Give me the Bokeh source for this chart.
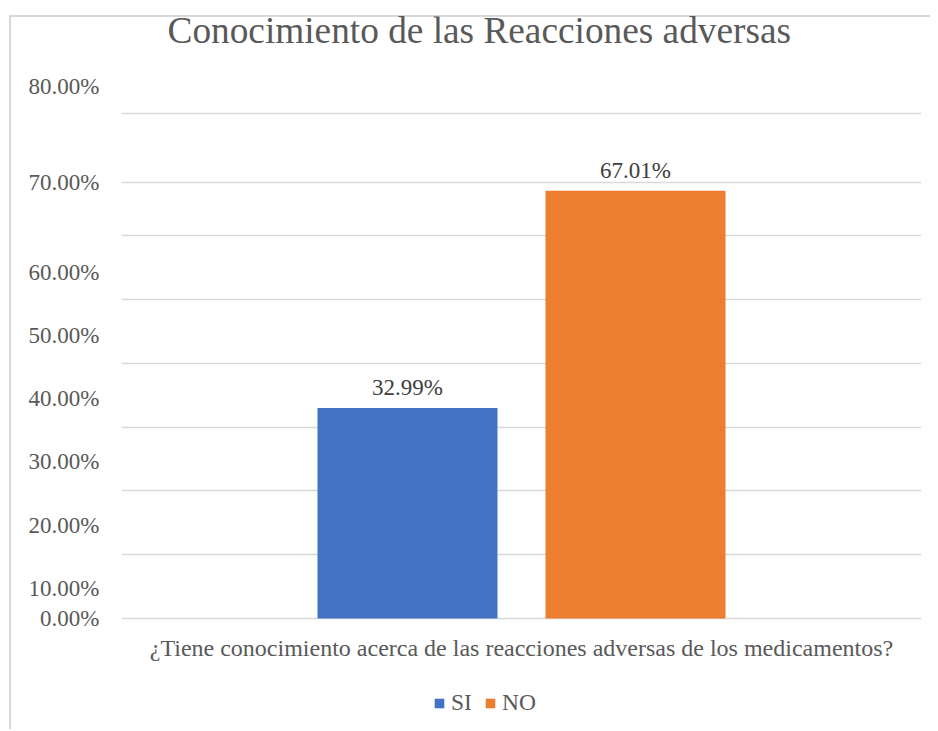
from bokeh.plotting import figure
from bokeh.models import (FactorRange, Range1d, FixedTicker, Legend, LegendItem,
                          ColumnDataSource, LabelSet)
from bokeh.transform import dodge
from bokeh.core.properties import value
from bokeh.embed import file_html
from bokeh.resources import INLINE

# ---------------- data ----------------
title_text = "Conocimiento de las Reacciones adversas"
question = "¿Tiene conocimiento acerca de las reacciones adversas de los medicamentos?"
series = ["SI", "NO"]
values = [32.99, 67.01]
colors = ["#4472C4", "#ED7D31"]

# tick labels as they appear in the reference (labels drift from gridlines there)
ytick_labels = ["0.00%", "10.00%", "20.00%", "30.00%", "40.00%",
                "50.00%", "60.00%", "70.00%", "80.00%"]
ytick_label_pos = [0, 4.7, 14.6, 24.6, 34.5, 44.4, 54.2, 68.3, 83.4]
grid_pos = [0, 10, 20, 30, 40, 50, 60, 68.3, 79.1]

# ---------------- layout / style ----------------
FONT = "Liberation Serif"
GREY = "#595959"
GRID = "#d9d9d9"
offsets = [-0.1425, 0.1425]
bar_width = 0.225
y_bottom, y_top = -17.4, 96.84   # plot area spans the whole chart height

chart_border = {
    "background-image": "linear-gradient(#d9d9d9, #d9d9d9), linear-gradient(#d9d9d9, #d9d9d9)",
    "background-size": "100% 2px, 2px 100%",
    "background-position": "10px 15px, 9px 15px",
    "background-repeat": "no-repeat",
}

p = figure(x_range=FactorRange(factors=[question], range_padding=0),
           y_range=Range1d(y_bottom, y_top),
           width=930, height=729,
           output_backend="svg", toolbar_location=None,
           min_border_left=121, min_border_right=9,
           min_border_top=0, min_border_bottom=0,
           outline_line_color=None, border_fill_color=None,
           background_fill_color=None,
           styles=chart_border)
p.title.text = ""

# chart title
title_src = ColumnDataSource(dict(cat=[question], top=[y_top], lab=[title_text]))
p.add_layout(LabelSet(x=dodge("cat", -0.5, range=p.x_range), y="top", text="lab",
                      source=title_src, x_offset=46, y_offset=-42.5,
                      text_align="left", text_baseline="alphabetic",
                      text_font=value(FONT), text_font_size="37.3px",
                      text_color=GREY))

renderers = []
for s, v, c, off in zip(series, values, colors, offsets):
    src = ColumnDataSource(dict(cat=[question], val=[v], lab=[f"{v:.2f}%"]))
    r = p.vbar(x=dodge("cat", off, range=p.x_range), top="val", width=bar_width,
               source=src, fill_color=c, line_color=None)
    renderers.append(r)
    p.add_layout(LabelSet(x=dodge("cat", off, range=p.x_range), y="val", text="lab",
                          source=src, text_align="center", text_baseline="alphabetic",
                          y_offset=13, text_font=value(FONT), text_font_size="23px",
                          text_color="#404040"))

# category label under the zero line
cat_src = ColumnDataSource(dict(cat=[question], base=[0], lab=[question]))
p.add_layout(LabelSet(x="cat", y="base", text="lab", source=cat_src,
                      text_align="center", text_baseline="middle", y_offset=-30,
                      text_font=value(FONT), text_font_size="24px",
                      text_color=GREY))

# y axis
yax = p.left[0]
yax.ticker = FixedTicker(ticks=ytick_label_pos)
yax.major_label_overrides = {pos: lab for pos, lab in zip(ytick_label_pos, ytick_labels)}
yax.axis_line_color = None
yax.major_tick_line_color = None
yax.minor_tick_line_color = None
yax.major_tick_out = 0
yax.minor_tick_out = 0
yax.major_label_standoff = 22
yax.major_label_text_font = FONT
yax.major_label_text_font_size = "23px"
yax.major_label_text_color = GREY

# x axis is drawn as the zero grid line + the label above
p.below[0].visible = False

# grid
p.ygrid.ticker = FixedTicker(ticks=grid_pos)
p.ygrid.grid_line_color = GRID
p.ygrid.grid_line_width = 1.3
p.xgrid.grid_line_color = None

legend = Legend(items=[LegendItem(label=s, renderers=[r]) for s, r in zip(series, renderers)],
                orientation="horizontal", location=(312, 13),
                border_line_color=None, background_fill_alpha=0,
                label_text_font=FONT, label_text_font_size="23.5px",
                label_text_color=GREY, glyph_width=12, glyph_height=12,
                label_standoff=6, spacing=12, padding=0, margin=0)
p.add_layout(legend, "center")

open("out.html", "w").write(file_html(p, INLINE))
